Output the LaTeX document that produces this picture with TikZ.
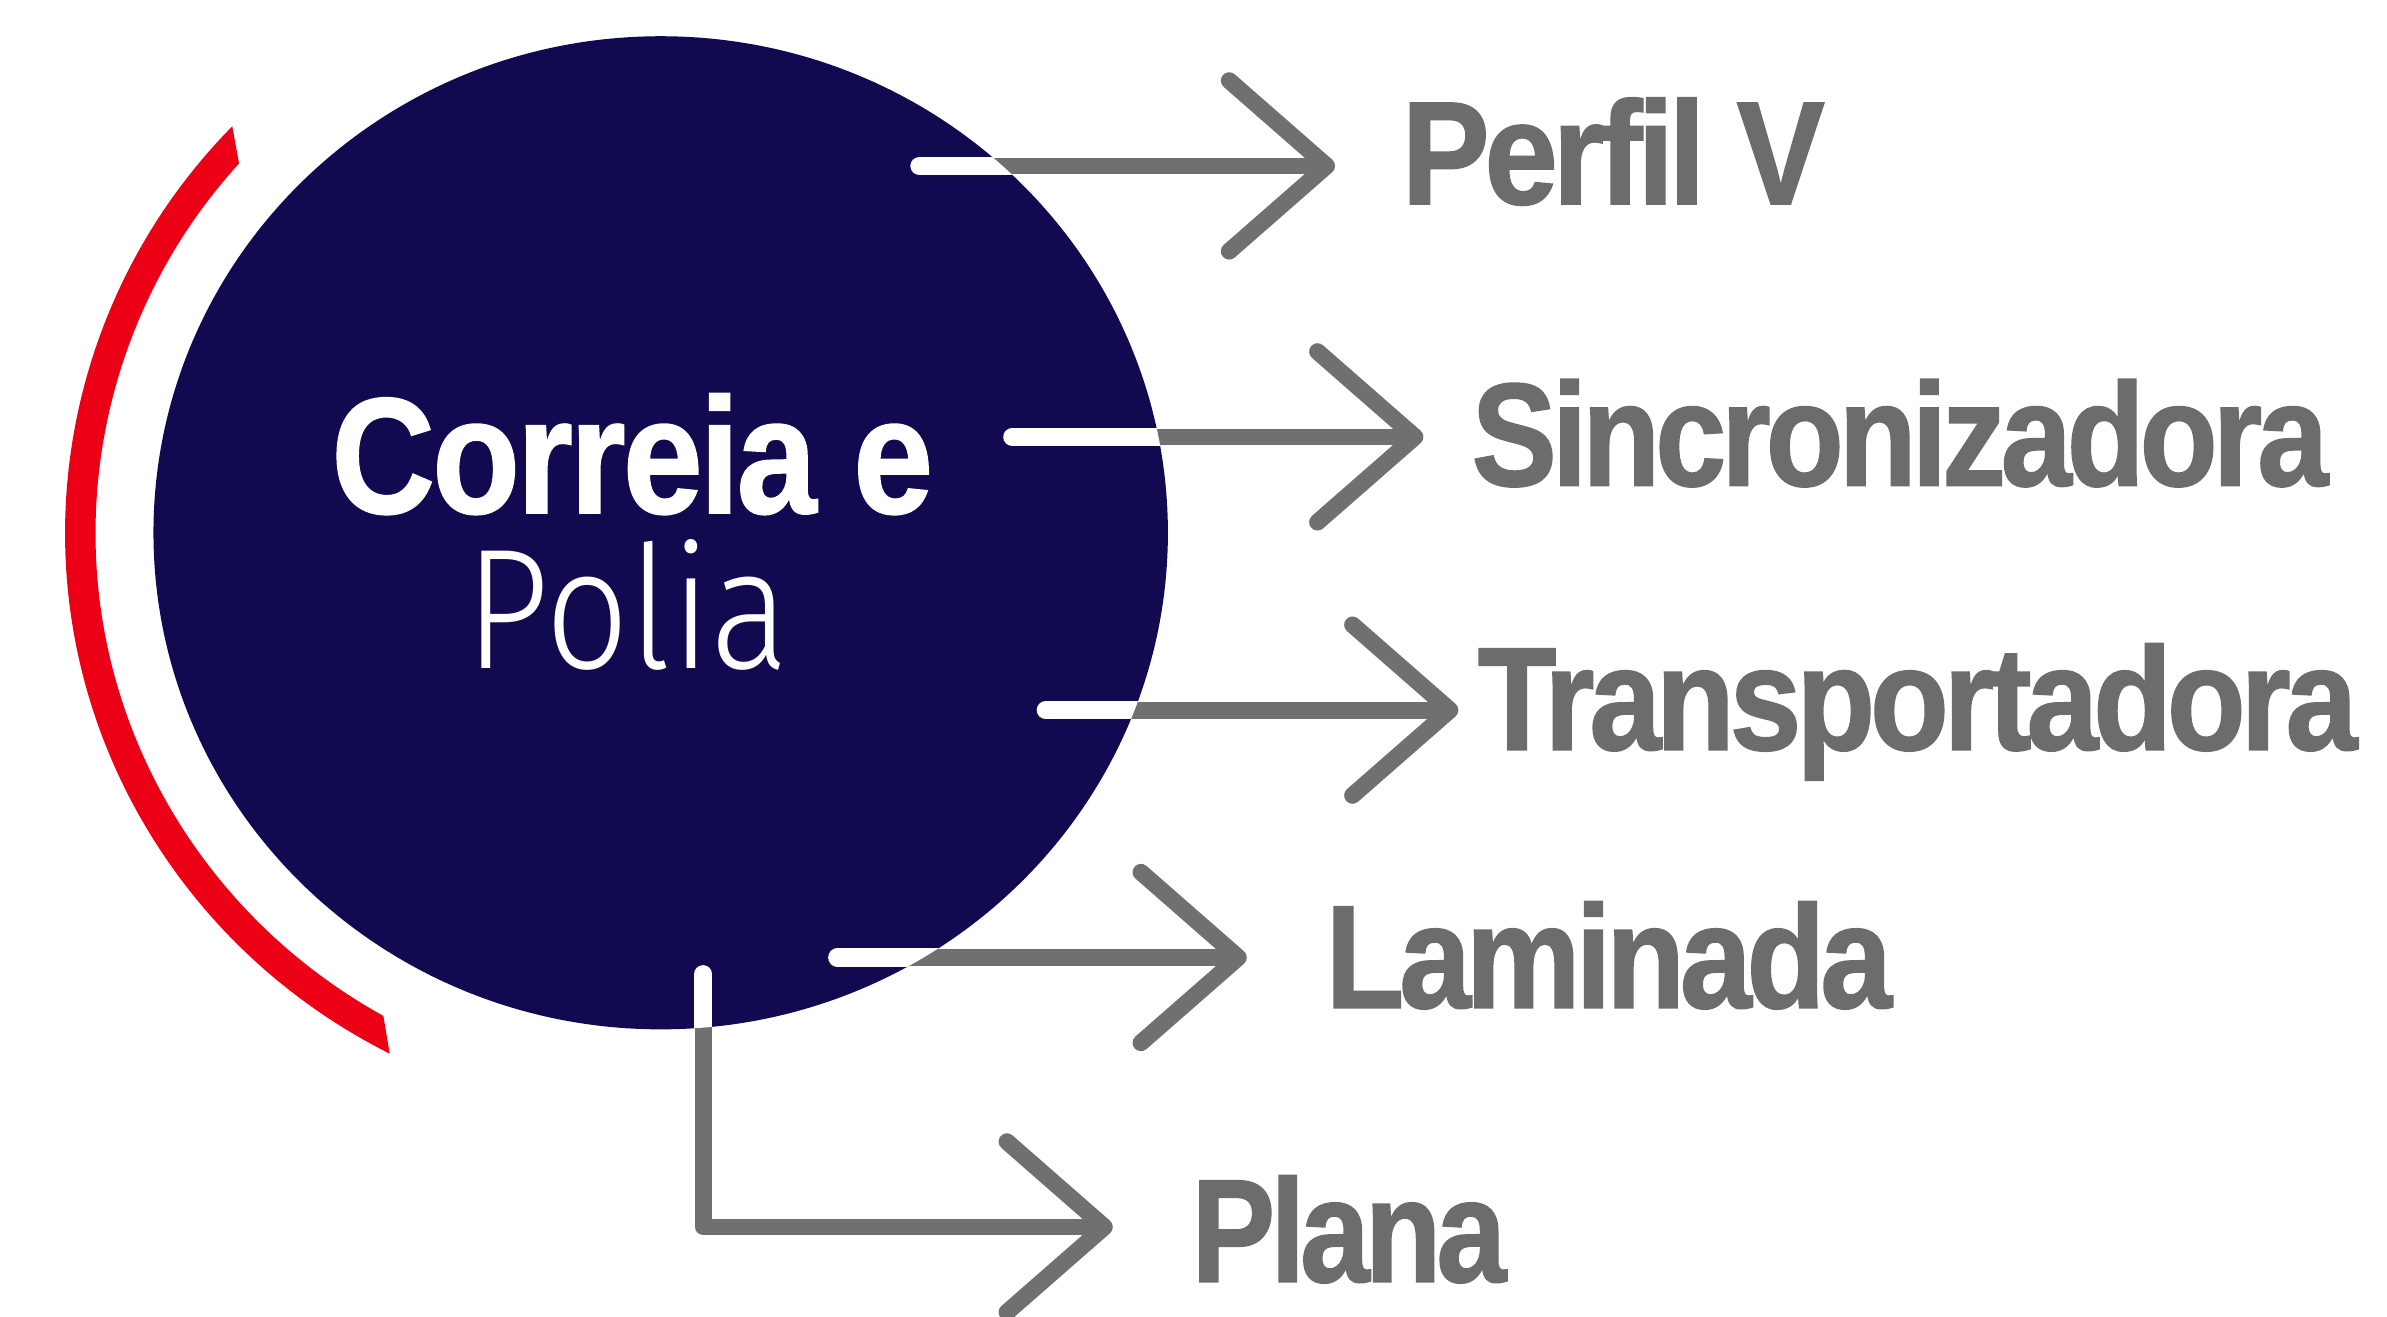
\documentclass[tikz,border=0pt]{standalone}
\usepackage{fontspec}
\setmainfont{Liberation Sans}
\newfontfamily\labfont[LetterSpace=-4,FakeBold=1.2]{Liberation Sans}
\newfontfamily\hubfont[LetterSpace=-2,FakeBold=1.2]{Liberation Sans}
\newfontfamily\lightfont{Fira Sans Light}
\usetikzlibrary{arrows.meta,shapes.geometric}
\definecolor{navy}{RGB}{18,10,80}
\definecolor{redarc}{RGB}{236,0,22}
\definecolor{linegray}{RGB}{112,112,112}
\definecolor{textgray}{RGB}{108,108,108}
\newcommand{\narrow}[2]{\scalebox{#1}[1]{#2}}
\begin{document}
\begin{tikzpicture}[x=0.01cm,y=-0.01cm,
  conn/.style={draw=linegray, line width=0.11cm, line cap=round, line join=round,
    -{Straight Barb[length=6.4mm,width=11.2mm,round]}},
  inner/.style={draw=white, line width=0.12cm, line cap=round},
  lab/.style={anchor=base west, inner sep=0pt, text=textgray,
    font=\labfont\bfseries\fontsize{27.4}{30}\selectfont},
  hubtxt/.style={anchor=base west, inner sep=0pt, text=white}]
\useasboundingbox (0,0) rectangle (1568,865);
% hub
\node[ellipse, fill=navy, minimum width=6.66cm, minimum height=6.52cm, inner sep=0pt] (hub) at (434,350) {};
% red arc
\begin{scope}
  \clip (0,0) -- (151,0) -- (152.6,83) -- (157.5,110) -- (157.5,350) -- (251.5,350)
        -- (251.5,665.5) -- (256,692) -- (256,865) -- (0,865) -- cycle;
  \draw[redarc, line width=0.2cm] ([shift={(125:3.81cm and 3.74cm)}]hub.center)
        arc[start angle=125, end angle=255, x radius=3.81cm, y radius=3.74cm];
\end{scope}
% hub text
\node[hubtxt, font=\hubfont\bfseries\fontsize{30.8}{34}\selectfont] (t1) at (217,337) {\narrow{0.87}{Correia e}};
\node[hubtxt, font=\lightfont\fontsize{32}{36}\selectfont] (t2) at (305,439) {\narrow{0.86}{Polia}};
% labels
\node[lab] (l1) at (920,134) {\narrow{0.9}{Perfil V}};
\node[lab] (l2) at (966,319) {\narrow{0.871}{Sincronizadora}};
\node[lab] (l3) at (970,492.5) {\narrow{0.88}{Transportadora}};
\node[lab] (l4) at (870,662) {\narrow{0.88}{Laminada}};
\node[lab] (l5) at (782,842) {\narrow{0.855}{Plana}};
% connector ends
\coordinate (s1) at (604,109);   \coordinate (e1) at (877,109);
\coordinate (s2) at (665,287);   \coordinate (e2) at (935,287);
\coordinate (s3) at (687,466.5); \coordinate (e3) at (958,466.5);
\coordinate (s4) at (550,629);   \coordinate (e4) at (819,629);
\coordinate (s5) at (462,640);   \coordinate (e5) at (731,806);
\draw[conn] (s1) -- (e1);
\draw[conn] (s2) -- (e2);
\draw[conn] (s3) -- (e3);
\draw[conn] (s4) -- (e4);
\draw[conn] (s5) |- (e5);
\begin{scope}
  \clip (hub.center) ellipse [x radius=3.33cm, y radius=3.26cm];
  \draw[inner] (s1) -- (e1);
  \draw[inner] (s2) -- (e2);
  \draw[inner] (s3) -- (e3);
  \draw[inner] (s4) -- (e4);
  \draw[inner] (s5) |- (e5);
\end{scope}
\end{tikzpicture}
\end{document}
